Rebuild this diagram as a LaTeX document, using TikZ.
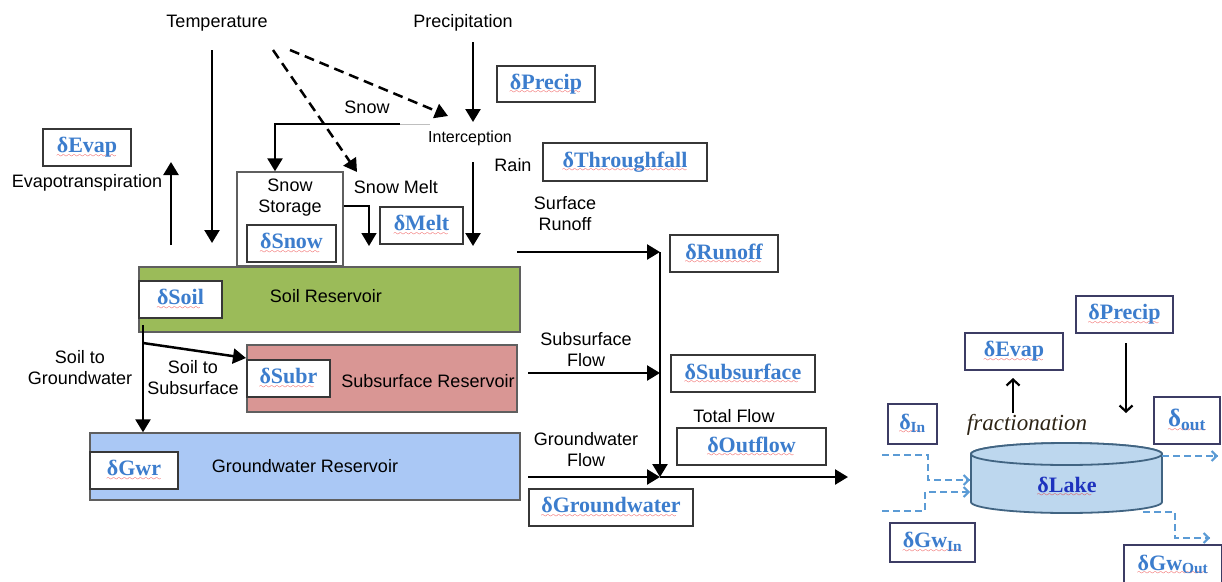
\documentclass[tikz,border=0pt]{standalone}
\usepackage{fontspec}
\setmainfont{Liberation Sans}
\newfontfamily\dfont{Liberation Serif}
\usetikzlibrary{arrows.meta,positioning}
\definecolor{soilgreen}{RGB}{155,187,89}
\definecolor{subred}{RGB}{217,150,148}
\definecolor{gwblue}{RGB}{170,200,245}
\definecolor{deltablue}{RGB}{60,125,205}
\definecolor{lakeblue}{RGB}{30,50,190}
\definecolor{lakefill}{RGB}{189,215,238}
\definecolor{lakeedge}{RGB}{65,100,130}
\definecolor{lakedashc}{RGB}{91,155,213}
\definecolor{boxgray}{RGB}{55,55,55}
\definecolor{boxslate}{RGB}{60,60,100}
\definecolor{squigred}{RGB}{235,30,30}
\definecolor{fracttext}{RGB}{45,35,20}

\font\wavefont=lasy7
\newcommand\squig[1]{\setbox0=\hbox{#1}\leavevmode
  \rlap{\lower4.5pt\hbox to\wd0{\color{squigred}\leaders\hbox{\wavefont\char58}\hfill}}\box0}

\tikzset{
    lbl/.style={inner sep=0pt,align=center,font=\fontsize{18}{21}\selectfont},
    dbox/.style={draw=boxgray,line width=1.4pt,fill=white,inner sep=0pt,
                 text=deltablue,font=\dfont\bfseries\fontsize{22}{24}\selectfont},
    resv/.style={draw=boxgray!80,line width=1.4pt,inner sep=0pt,
                 font=\fontsize{18}{21}\selectfont},
    flowarr/.style={line width=2.5pt,-{Triangle[length=13pt,width=15pt]}},
    tempdash/.style={flowarr,dash pattern=on 10pt off 6pt},
    lakedash/.style={draw=lakedashc,line width=2pt,dash pattern=on 7pt off 4pt},
    lakehead/.style={draw=lakedashc,line width=2pt,
                     -{Straight Barb[length=5pt,width=10pt,line width=2pt]}},
    lakearr/.style={line width=2.2pt,-{Straight Barb[length=6pt,width=13pt]}},
    lakebody/.style={draw=lakeedge,line width=1.8pt,fill=lakefill}
}

\begin{document}
\begin{tikzpicture}[x=1pt,y=-1pt]
    \useasboundingbox (0,0) rectangle (1222,581);

    % reservoirs
    \node[resv,fill=white,minimum width=106pt,minimum height=94pt] (snowst) at (290,219) {};
    \node[lbl] (snowtxt) at (290,198) {Snow\\Storage};
    \node[resv,fill=soilgreen,minimum width=381pt,minimum height=65pt] (soil) at (329.5,299.5) {};
    \node[lbl] (soiltxt) at (326,296) {Soil Reservoir};
    \node[resv,fill=subred,minimum width=270pt,minimum height=67pt] (sub) at (382,378.5) {};
    \node[lbl] (subtxt) at (428,381) {Subsurface Reservoir};
    \node[resv,fill=gwblue,minimum width=430pt,minimum height=67pt] (gw) at (305,466.5) {Groundwater Reservoir};

    % labels
    \node[lbl] (temp) at (217,23) {Temperature};
    \node[lbl] (precip) at (463,23) {Precipitation};
    \node[lbl] (snow) at (367,107) {Snow};
    \node[lbl,font=\fontsize{16}{18}\selectfont] (intercept) at (470,138) {Interception};
    \node[lbl] (rain) at (513,165) {Rain};
    \node[lbl] (evapt) at (87,183) {Evapotranspiration};
    \node[lbl] (melt) at (396,187) {Snow Melt};
    \node[lbl] (surf) at (565,214) {Surface\\Runoff};
    \node[lbl] (s2g) at (80,368) {Soil to\\Groundwater};
    \node[lbl] (s2s) at (193,378) {Soil to\\Subsurface};
    \node[lbl] (subfl) at (586,350) {Subsurface\\Flow};
    \node[lbl] (gwfl) at (586,450) {Groundwater\\Flow};
    \node[lbl] (total) at (734,416) {Total Flow};

    % isotope boxes
    \node[dbox,minimum width=98pt,minimum height=36pt] (dprecip) at (546,84) {\squig{δPrecip}};
    \node[dbox,minimum width=164pt,minimum height=38pt] (dthrough) at (625,162) {\squig{δThroughfall}};
    \node[dbox,minimum width=88pt,minimum height=37pt] (devap) at (87,147.5) {\squig{δEvap}};
    \node[dbox,minimum width=89pt,minimum height=37pt] (dsnow) at (291.5,243.5) {\squig{δSnow}};
    \node[dbox,minimum width=83pt,minimum height=37pt] (dmelt) at (421.5,225.5) {\squig{δMelt}};
    \node[dbox,minimum width=108pt,minimum height=37pt] (drunoff) at (724,253.5) {\squig{δRunoff}};
    \node[dbox,minimum width=83pt,minimum height=37pt] (dsoil) at (180.5,299.5) {\squig{δSoil}};
    \node[dbox,minimum width=83pt,minimum height=37pt] (dsubr) at (288.5,378.5) {\squig{δSubr}};
    \node[dbox,minimum width=144pt,minimum height=37pt] (dsubsurf) at (743,373.5) {\squig{δSubsurface}};
    \node[dbox,minimum width=149pt,minimum height=37pt] (doutflow) at (751.5,446.5) {\squig{δOutflow}};
    \node[dbox,minimum width=88pt,minimum height=37pt] (dgwr) at (134,470.5) {\squig{δGwr}};
    \node[dbox,minimum width=164pt,minimum height=37pt] (dgroundw) at (611,507.5) {\squig{δGroundwater}};

    % free ends
    \coordinate (tdown0) at (212,50);   \coordinate (tdown1) at (212,243);
    \coordinate (tmelt0) at (273,50);   \coordinate (tmelt1) at (357,172);
    \coordinate (tint0) at (290,50);    \coordinate (tint1) at (448,116);
    \coordinate (pdown0) at (473,42);   \coordinate (pdown1) at (473,122);
    \coordinate (snowsrc) at (430,124); \coordinate (snowbend) at (400,124);
    \coordinate (rain0) at (473,162);   \coordinate (rain1) at (473,246);
    \coordinate (evap0) at (171,245);   \coordinate (evap1) at (171,162);
    \coordinate (meltend) at (369,246);
    \coordinate (run0) at (517,252);    \coordinate (junc1) at (660,252);
    \coordinate (subfl0) at (528,373);  \coordinate (junc2) at (660,373);
    \coordinate (gwfl0) at (528,477);   \coordinate (junc3) at (660,477);
    \coordinate (outend) at (848,477);
    \coordinate (s2g0) at (143,325);    \coordinate (s2s0) at (143,343);
    \coordinate (s2s1) at (246,358);

    \draw[flowarr] (tdown0) -- (tdown1);
    \draw[tempdash] (tmelt0) -- (tmelt1);
    \draw[tempdash] (tint0) -- (tint1);
    \draw[flowarr] (pdown0) -- (pdown1);
    \draw[gray!50,line width=1pt] (snowsrc) -- (snowbend);
    \draw[flowarr] (snowbend) -| ([xshift=-15pt]snowst.north);
    \draw[flowarr] (rain0) -- (rain1);
    \draw[flowarr] (evap0) -- (evap1);
    \draw[flowarr,line width=1.6pt] ([yshift=13pt]snowst.east) -| (meltend);
    \draw[flowarr] (run0) -- (junc1);
    \draw[flowarr] (junc1) -- (junc3);
    \draw[flowarr] (subfl0) -- (junc2);
    \draw[flowarr] (gwfl0) -- (junc3);
    \draw[flowarr] (junc3) -- (outend);
    \draw[flowarr] (s2g0) -- ([xshift=-162pt]gw.north);
    \draw[flowarr] (s2s0) -- (s2s1);

    % lake
    \draw[lakebody] (971,454) -- (971,502)
        arc[start angle=180,end angle=360,x radius=95.5pt,y radius=11pt] -- (1162,454)
        arc[start angle=0,end angle=180,x radius=95.5pt,y radius=11pt] -- cycle;
    \draw[lakebody] (1066.5,454) ellipse[x radius=95.5pt,y radius=11pt];
    \node[inner sep=0pt,text=lakeblue,font=\dfont\bfseries\fontsize{22}{24}\selectfont] (lake) at (1067,487) {\squig{δLake}};
    \node[inner sep=0pt,text=fracttext,font=\dfont\itshape\fontsize{23}{26}\selectfont] (fract) at (1027,425) {fractionation};

    \node[dbox,draw=boxslate,minimum width=98pt,minimum height=37pt] (devap2) at (1014,351.5) {\squig{δEvap}};
    \node[dbox,draw=boxslate,minimum width=97pt,minimum height=37pt] (dprecip2) at (1124.5,314.5) {\squig{δPrecip}};
    \node[dbox,draw=boxslate,minimum width=49pt,minimum height=40pt] (din) at (912.5,424) {\squig{δ\textsubscript{In}}};
    \node[dbox,draw=boxslate,minimum width=66pt,minimum height=47pt,font=\dfont\bfseries\fontsize{25}{28}\selectfont] (dout) at (1187,420.5) {\squig{δ\textsubscript{out}}};
    \node[dbox,draw=boxslate,minimum width=85pt,minimum height=39pt] (dgwin) at (932.5,542.5) {\squig{δGw\textsubscript{In}}};
    \node[dbox,draw=boxslate,minimum width=98pt,minimum height=40pt] (dgwout) at (1173,565) {\squig{δGw\textsubscript{Out}}};

    \coordinate (levap0) at (1013,413);  \coordinate (levap1) at (1013,378);
    \coordinate (lprec0) at (1126,343);  \coordinate (lprec1) at (1126,413);
    \coordinate (in0) at (882,455);      \coordinate (in1) at (928,480);
    \coordinate (in2) at (970,480);
    \coordinate (gin0) at (882,511);     \coordinate (gin1) at (925,492);
    \coordinate (gin2) at (970,492);
    \coordinate (out0) at (1162,456);    \coordinate (out1) at (1218,456);
    \coordinate (gout0) at (1143,512);   \coordinate (gout1) at (1175,538);
    \coordinate (gout2) at (1210,538);

    \draw[lakearr] (levap0) -- (levap1);
    \draw[lakearr] (lprec0) -- (lprec1);
    \draw[lakedash] (in0) -| (in1) -- (in2);
    \draw[lakehead] ([xshift=-4pt]in2) -- (in2);
    \draw[lakedash] (gin0) -| (gin1) -- (gin2);
    \draw[lakehead] ([xshift=-4pt]gin2) -- (gin2);
    \draw[lakedash] (out0) -- (out1);
    \draw[lakehead] ([xshift=-4pt]out1) -- (out1);
    \draw[lakedash] (gout0) -| (gout1) -- (gout2);
    \draw[lakehead] ([xshift=-4pt]gout2) -- (gout2);
\end{tikzpicture}
\end{document}
